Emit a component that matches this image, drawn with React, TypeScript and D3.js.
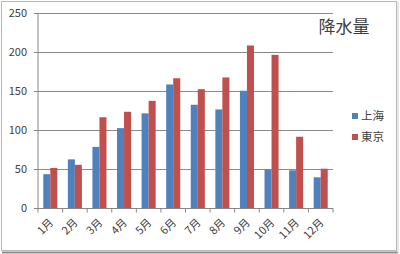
import React from 'react';
import * as d3 from 'd3';

const months = ['1月', '2月', '3月', '4月', '5月', '6月', '7月', '8月', '9月', '10月', '11月', '12月'];
const shanghai = [44, 63, 79, 103, 122, 159, 133, 127, 151, 50, 49, 40];
const tokyo = [52, 56, 117, 124, 138, 167, 153, 168, 209, 197, 92, 51];
const seriesNames = ['上海', '東京'];
const seriesColors = ['#4F81BD', '#C0504D'];
const yTicks = [0, 50, 100, 150, 200, 250];
const title = '降水量';

const W = 400;
const H = 254;
const plot = { left: 38, right: 333, top: 13.5, bottom: 208.5 };
const font = '"Noto Sans CJK JP", "Noto Sans", sans-serif';

export default function App() {
  const x = d3.scaleBand<string>().domain(months).range([plot.left, plot.right]).paddingInner(0).paddingOuter(0);
  const y = d3.scaleLinear().domain([0, 250]).range([plot.bottom, plot.top]);
  const bw = x.bandwidth();
  const barW = bw / 3.5;
  const inner = d3.scaleBand<number>().domain([0, 1]).range([bw / 2 - barW, bw / 2 + barW]);
  const data = [shanghai, tokyo];

  return (
    <svg width={W} height={H} style={{ position: 'absolute', left: 0, top: 0 }} fontFamily={font}>
      <rect x={0} y={0} width={W} height={H} fill="#fff" />
      <rect x={1.5} y={1.5} width={395} height={249} fill="none" stroke="#b8b8b8" strokeWidth={1} />
      <line x1={2} x2={398} y1={252.5} y2={252.5} stroke="#8c8c8c" strokeWidth={2} />
      <line x1={398} x2={398} y1={2} y2={253} stroke="#d0d0d0" strokeWidth={1} />
      {yTicks.map((t) => (
        <g key={t}>
          {t > 0 && (
            <line x1={plot.left} x2={plot.right} y1={y(t)} y2={y(t)} stroke="#8a8a8a" strokeWidth={1} />
          )}
          <line x1={plot.left - 4} x2={plot.left} y1={y(t)} y2={y(t)} stroke="#868686" />
          <text x={27} y={y(t)} dy="0.35em" textAnchor="end" fontSize={11} fill="#404040">
            {t}
          </text>
        </g>
      ))}
      {months.map((m, i) => (
        <g key={m}>
          {data.map((s, k) => (
            <rect
              key={k}
              x={(x(m) as number) + (inner(k) as number)}
              y={y(s[i])}
              width={barW}
              height={y(0) - y(s[i])}
              fill={seriesColors[k]}
            />
          ))}
        </g>
      ))}
      <line x1={plot.left} x2={plot.left} y1={plot.top} y2={plot.bottom} stroke="#868686" />
      <line x1={plot.left} x2={plot.right} y1={plot.bottom} y2={plot.bottom} stroke="#868686" />
      {months.map((m) => (
        <line key={m} x1={x(m) as number} x2={x(m) as number} y1={plot.bottom} y2={plot.bottom + 4} stroke="#868686" />
      ))}
      <line x1={plot.right} x2={plot.right} y1={plot.bottom} y2={plot.bottom + 4} stroke="#868686" />
      {months.map((m) => {
        const cx = (x(m) as number) + bw / 2 + 1;
        const cy = plot.bottom + 12;
        return (
          <text
            key={m}
            x={cx}
            y={cy}
            textAnchor="end"
            dy="0.35em"
            fontSize={11}
            fill="#404040"
            transform={`rotate(-45, ${cx}, ${cy})`}
          >
            {m}
          </text>
        );
      })}
      <text x={344} y={33} textAnchor="middle" fontSize={17} fill="#404040">
        {title}
      </text>
      {seriesNames.map((n, k) => (
        <g key={n} transform={`translate(352, ${116 + k * 21})`}>
          <rect x={0} y={-3} width={6} height={6} fill={seriesColors[k]} />
          <text x={9} y={0} dy="0.36em" fontSize={11.5} fill="#404040">
            {n}
          </text>
        </g>
      ))}
    </svg>
  );
}
